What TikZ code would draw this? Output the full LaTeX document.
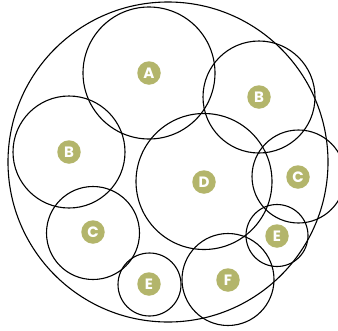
\documentclass[tikz,border=0pt]{standalone}
\usepackage{fontspec}
\setmainfont{Poppins}
\definecolor{olive}{HTML}{B3B56B}
\begin{document}
\begin{tikzpicture}[x=1pt,y=-1pt,
  ring/.style={draw=black,line width=1.1pt},
  tag/.style={circle,fill=olive,text=white,minimum size=23.5pt,inner sep=0pt,font=\fontsize{15}{15}\selectfont\bfseries}]
\useasboundingbox (0,0) rectangle (338,330);
\draw[ring] (168,162) circle (160);
\draw[ring] (149,73) circle (66);
\draw[ring] (259,97) circle (56);
\draw[ring] (69,152) circle (56);
\draw[ring] (204,181.5) circle (68);
\draw[ring] (298.5,176.5) circle (46.5);
\draw[ring] (93,233) circle (46.5);
\draw[ring] (277,235.5) circle (31);
\draw[ring] (149.5,284.5) circle (31.5);
\draw[ring] (228,279.5) circle (46);
\node[tag] (a) at (149,73) {A};
\node[tag] (b1) at (259,97) {B};
\node[tag] (b2) at (69,152) {B};
\node[tag] (d) at (204,182) {D};
\node[tag] (c1) at (298,177) {C};
\node[tag] (c2) at (93,232) {C};
\node[tag] (e1) at (277,236) {E};
\node[tag] (e2) at (149,284) {E};
\node[tag] (f) at (228,280) {F};
\end{tikzpicture}
\end{document}
